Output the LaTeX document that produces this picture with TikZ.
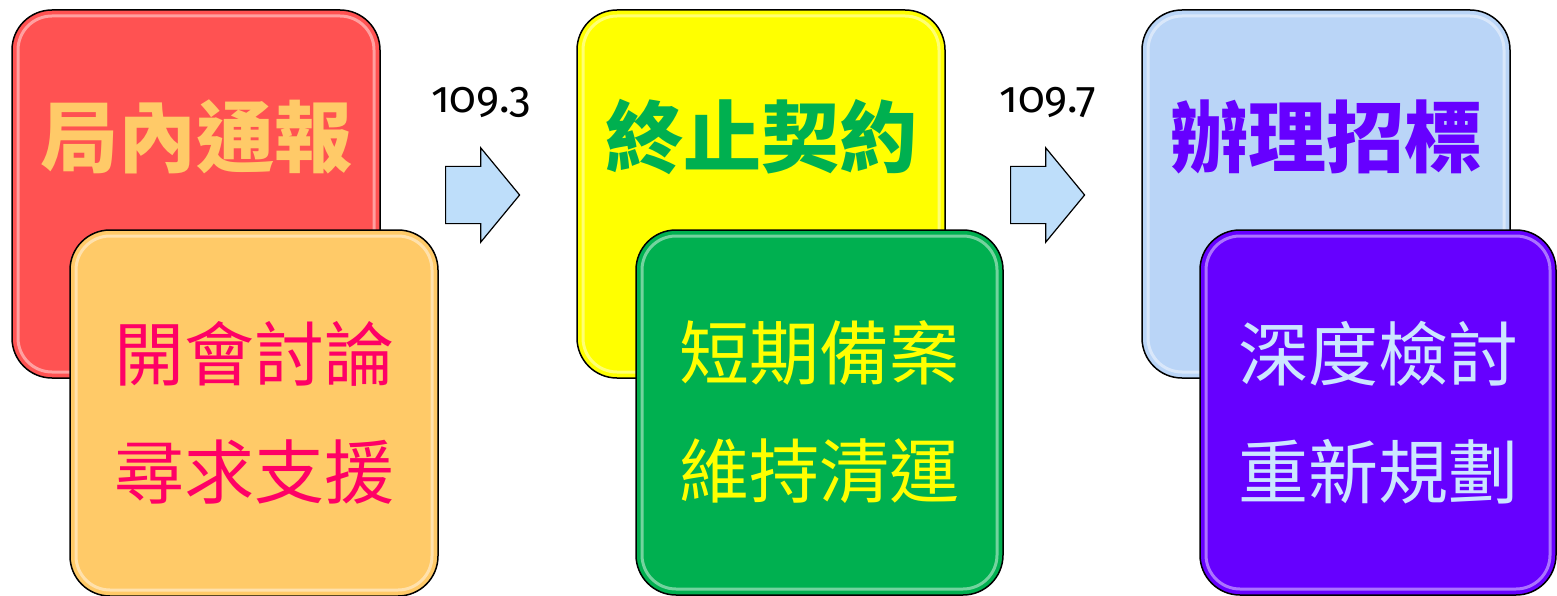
\documentclass[tikz,border=0pt]{standalone}
\usepackage{fontspec}
\setmainfont{Fira Sans}[Numbers=OldStyle]
\newfontfamily\cjk{Noto Sans CJK TC}
\usetikzlibrary{shapes.arrows}

% Colors
\definecolor{cardred}{RGB}{255,82,82}
\definecolor{cardorange}{RGB}{255,202,104}
\definecolor{cardyellow}{RGB}{255,255,0}
\definecolor{cardgreen}{RGB}{0,176,80}
\definecolor{cardsky}{RGB}{186,213,247}
\definecolor{cardviolet}{RGB}{102,0,255}
\definecolor{inkpink}{RGB}{255,0,102}
\definecolor{inkpale}{RGB}{204,230,255}
\definecolor{arrowblue}{RGB}{190,222,250}

\tikzset{
  card/.style={draw=black, line width=1.5pt, rounded corners=40pt, inner sep=0pt,
    minimum width=368pt, minimum height=368pt,
    path picture={\draw[white, opacity=.45, line width=3pt, rounded corners=34pt]
      ([shift={(6pt,-6pt)}]path picture bounding box.north west) rectangle
      ([shift={(-6pt,6pt)}]path picture bounding box.south east);}},
  headline/.style={font=\cjk\bfseries\fontsize{78}{78}\selectfont, inner sep=0pt},
  body/.style={font=\cjk\fontsize{70}{118}\selectfont, align=center},
  step arrow/.style={single arrow, draw=black, line width=1.2pt, fill=arrowblue,
    text height=56pt, text depth=0pt, inner sep=0pt, anchor=tail,
    minimum height=74pt, single arrow head extend=18.5pt,
    single arrow tip angle=101},
  datelabel/.style={font=\fontsize{44}{44}\selectfont, anchor=base, inner sep=0pt}
}

\begin{document}
\begin{tikzpicture}[x=1pt,y=-1pt]

\useasboundingbox (0,0) rectangle (1557,596);

% Stage 1
\node[card, fill=cardred] (report) at (196,194) {};
\node[headline, text=cardorange] (reporttext) at (report.center |- 0,137) {局內通報};
\node[card, fill=cardorange, minimum height=366pt, text=inkpink, body] (meeting) at (254,413)
  {開會討論\\尋求支援};

% Stage 2
\node[card, fill=cardyellow] (terminate) at (761,194) {};
\node[headline, text=cardgreen] (terminatetext) at (terminate.center |- 0,137) {終止契約};
\node[card, fill=cardgreen, minimum width=367pt, minimum height=365pt, text=cardyellow, body] (backup) at (819.5,412.5)
  {短期備案\\維持清運};

% Stage 3
\node[card, fill=cardsky] (tender) at (1326,194) {};
\node[headline, text=cardviolet] (tendertext) at (tender.center |- 0,137) {辦理招標};
\node[card, fill=cardviolet, minimum width=356pt, minimum height=365pt, text=inkpale, body] (review) at (1378,412.5)
  {深度檢討\\重新規劃};

% Arrows and dates
\node[step arrow] (arrowone) at (445,195) {};
\node[datelabel] (dateone) at (481,113) {109.3};
\node[step arrow] (arrowtwo) at (1010,195) {};
\node[datelabel] (datetwo) at (1048,113) {109.7};

\end{tikzpicture}
\end{document}
